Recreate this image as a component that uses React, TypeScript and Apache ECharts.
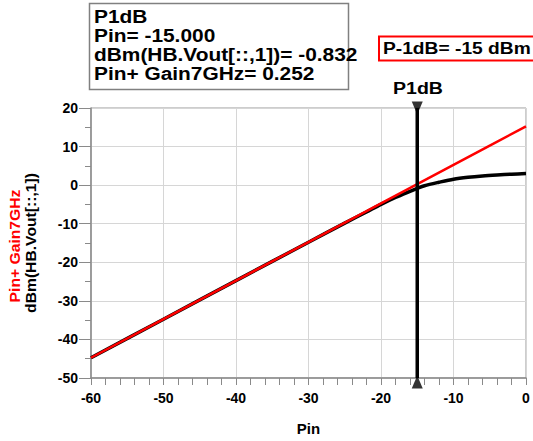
import React, { useEffect, useRef } from "react";
import * as echarts from "echarts";

const FONT = "'Liberation Sans', Arial, sans-serif";

const gainPin = [-60, -50, -40, -30, -20, -15, -10, -5, 0];
const gainVals = [-44.75, -34.75, -24.75, -14.75, -4.75, 0.252, 5.25, 10.25, 15.25];

const voutPin = [-60, -50, -40, -30, -25, -22, -20, -18, -16, -15, -14, -12, -10, -8, -6, -4, -2, 0];
const voutVals = [-44.75, -34.75, -24.75, -14.8, -9.85, -6.95, -5.0, -3.2, -1.6, -0.832, -0.15, 0.75, 1.55, 2.05, 2.4, 2.65, 2.85, 3.0];

const markerPin = -15;
const yRange = [-50, 20];
const xRange = [-60, 0];

const markerLines = [
  "P1dB",
  "Pin= -15.000",
  "dBm(HB.Vout[::,1])= -0.832",
  "Pin+ Gain7GHz= 0.252",
];
const p1dbText = "P-1dB= -15 dBm";

export default function App() {
  const ref = useRef<HTMLDivElement>(null);
  useEffect(() => {
    if (!ref.current) return;
    const chart = echarts.init(ref.current, undefined, { renderer: "svg" });
    const labelStyle = { color: "#000", fontWeight: "bold" as const, fontSize: 14, fontFamily: FONT };
    chart.setOption({
      animation: false,
      backgroundColor: "#fff",
      grid: {
        left: 91,
        right: 7,
        top: 108,
        bottom: 58,
        show: true,
        borderColor: "#9a9a9a",
        borderWidth: 1,
      },
      xAxis: {
        type: "value",
        min: xRange[0],
        max: xRange[1],
        interval: 10,
        name: "Pin",
        nameLocation: "middle",
        nameGap: 43,
        nameTextStyle: { ...labelStyle, fontSize: 15 },
        axisLine: { onZero: false, lineStyle: { color: "#8a8a8a", width: 1.5 } },
        axisTick: { length: 7, lineStyle: { color: "#8a8a8a" } },
        minorTick: { show: true, splitNumber: 5, length: 7, lineStyle: { color: "#8a8a8a" } },
        axisLabel: { ...labelStyle, margin: 13 },
        splitLine: { show: true, lineStyle: { color: "#d6d6d6", width: 1 } },
      },
      yAxis: {
        type: "value",
        min: yRange[0],
        max: yRange[1],
        interval: 10,
        axisLine: { show: true, onZero: false, lineStyle: { color: "#8a8a8a", width: 1.5 } },
        axisTick: { show: true, length: 12, lineStyle: { color: "#8a8a8a" } },
        minorTick: { show: true, splitNumber: 2, length: 6, lineStyle: { color: "#8a8a8a" } },
        axisLabel: { ...labelStyle, margin: 13 },
        splitLine: { show: true, lineStyle: { color: "#d6d6d6", width: 1 } },
      },
      series: [
        {
          type: "line",
          name: "gain",
          data: gainPin.map((x, i) => [x, gainVals[i]]),
          showSymbol: false,
          lineStyle: { color: "#ff0000", width: 2.5 },
          z: 3,
        },
        {
          type: "line",
          name: "vout",
          data: voutPin.map((x, i) => [x, voutVals[i]]),
          showSymbol: false,
          smooth: 0.3,
          lineStyle: { color: "#000", width: 3.5 },
          z: 2,
        },
        {
          type: "line",
          name: "marker",
          data: [[markerPin, yRange[0]], [markerPin, yRange[1]]],
          showSymbol: false,
          lineStyle: { color: "#000", width: 3.5 },
          z: 4,
        },
        {
          type: "scatter",
          name: "markerTop",
          data: [[markerPin, yRange[1]]],
          symbol: "triangle",
          symbolRotate: 180,
          symbolSize: [11, 13],
          itemStyle: { color: "#000" },
          clip: false,
          z: 5,
        },
        {
          type: "scatter",
          name: "markerBottom",
          data: [[markerPin, yRange[0]]],
          symbol: "triangle",
          symbolSize: [11, 13],
          symbolOffset: [0, 4],
          itemStyle: { color: "#000" },
          clip: false,
          z: 5,
        },
      ],
      graphic: [
        {
          type: "rect",
          shape: { x: 89.5, y: 3.5, width: 259, height: 86 },
          style: { fill: "#fff", stroke: "#808080", lineWidth: 1.5 },
        },
        ...markerLines.map((t, i) => ({
          type: "text",
          x: 94,
          y: [17, 36, 55, 74][i],
          scaleX: 1.16,
          style: {
            text: t,
            fill: "#000",
            font: `bold 18px ${FONT}`,
            verticalAlign: "middle",
          },
        })),
        {
          type: "rect",
          shape: { x: 379, y: 36.5, width: 160, height: 24 },
          style: { fill: "#fff", stroke: "#ff0000", lineWidth: 2 },
        },
        {
          type: "text",
          x: 383,
          y: 48.5,
          scaleX: 1.13,
          style: {
            text: p1dbText,
            fill: "#000",
            font: `bold 17px ${FONT}`,
            verticalAlign: "middle",
          },
        },
        {
          type: "text",
          x: 418,
          y: 88,
          scaleX: 1.15,
          style: {
            text: "P1dB",
            fill: "#000",
            font: `bold 17px ${FONT}`,
            align: "center",
            verticalAlign: "middle",
          },
        },
        {
          type: "text",
          x: 15,
          y: 246,
          rotation: Math.PI / 2,
          scaleX: 1.12,
          style: {
            text: "Pin+ Gain7GHz",
            fill: "#ff0000",
            font: `bold 14px ${FONT}`,
            align: "center",
            verticalAlign: "middle",
          },
        },
        {
          type: "text",
          x: 31,
          y: 243,
          rotation: Math.PI / 2,
          scaleX: 1.12,
          style: {
            text: "dBm(HB.Vout[::,1])",
            fill: "#000",
            font: `bold 14px ${FONT}`,
            align: "center",
            verticalAlign: "middle",
          },
        },
      ],
    });
    return () => chart.dispose();
  }, []);
  return <div ref={ref} style={{ width: 533, height: 441, position: "absolute", left: 0, top: 0 }} />;
}
